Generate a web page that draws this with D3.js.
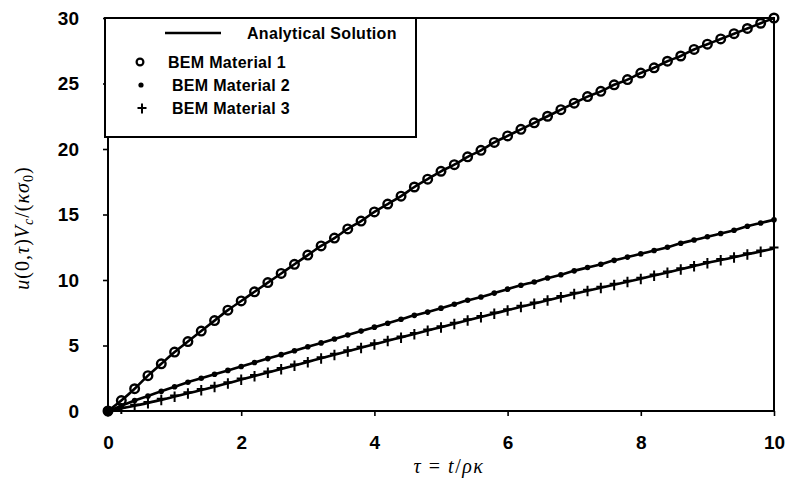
<!DOCTYPE html>
<html>
<head>
<meta charset="utf-8">
<script src="https://cdn.jsdelivr.net/npm/d3@7"></script>
<style>
  body { margin: 0; background: #fff; }
  svg { display: block; }
</style>
</head>
<body>
<svg id="chart" width="788" height="490"></svg>
<script>
// ---- data ----
const tau = [0,0.2,0.4,0.6,0.8,1.0,1.2,1.4,1.6,1.8,2.0,2.2,2.4,2.6,2.8,3.0,3.2,3.4,3.6,3.8,
             4.0,4.2,4.4,4.6,4.8,5.0,5.2,5.4,5.6,5.8,6.0,6.2,6.4,6.6,6.8,7.0,7.2,7.4,7.6,7.8,
             8.0,8.2,8.4,8.6,8.8,9.0,9.2,9.4,9.6,9.8,10.0];
const material1 = [0,0.8,1.7,2.7,3.6,4.5,5.3,6.1,6.9,7.7,8.4,9.1,9.8,10.5,11.2,11.9,12.6,13.2,13.9,14.5,
                   15.2,15.8,16.4,17.1,17.7,18.3,18.8,19.4,19.9,20.5,21.0,21.5,22.0,22.5,23.0,23.5,24.0,24.4,24.9,25.3,
                   25.8,26.2,26.7,27.1,27.6,28.0,28.4,28.8,29.2,29.6,30.0];
const material2 = [0,0.4,0.8,1.15,1.5,1.85,2.2,2.5,2.8,3.1,3.4,3.7,4.0,4.3,4.6,4.9,5.2,5.5,5.8,6.1,
                   6.4,6.7,7.0,7.3,7.55,7.85,8.15,8.45,8.7,9.0,9.3,9.6,9.85,10.15,10.4,10.7,10.95,11.2,11.5,11.75,
                   12.0,12.25,12.5,12.8,13.05,13.3,13.55,13.8,14.1,14.35,14.6];
const material3 = [0,0.2,0.4,0.62,0.85,1.1,1.35,1.6,1.85,2.12,2.4,2.67,2.94,3.21,3.48,3.75,4.02,4.29,4.56,4.83,
                   5.1,5.36,5.62,5.88,6.14,6.4,6.66,6.92,7.18,7.44,7.7,7.95,8.2,8.45,8.7,8.95,9.18,9.41,9.64,9.87,
                   10.1,10.34,10.58,10.82,11.06,11.3,11.52,11.74,11.96,12.18,12.4];
const xTicks = [0,2,4,6,8,10];
const yTicks = [0,5,10,15,20,25,30];
const legendLabels = ["Analytical Solution","BEM Material 1","BEM Material 2","BEM Material 3"];

// ---- layout ----
const svg = d3.select("#chart");
const L = 108, R = 774, T = 18, B = 411;
const x = d3.scaleLinear().domain([0,10]).range([L,R]);
const y = d3.scaleLinear().domain([0,30]).range([B,T]);
const tickFont = "bold 19px 'Liberation Sans', Arial, sans-serif";
const mathFont = "20px 'Liberation Serif', 'DejaVu Serif', serif";

// analytical lines
const line = d3.line().x((d,i)=>x(tau[i])).y(d=>y(d)).curve(d3.curveMonotoneX);
[material1, material2, material3].forEach(s => {
  svg.append("path").attr("d", line(s)).attr("fill","none")
     .attr("stroke","#000").attr("stroke-width",2.6);
});

// markers
const pts = arr => arr.map((v,i)=>({x:tau[i], y:v}));
svg.append("g").selectAll("circle").data(pts(material1)).join("circle")
  .attr("cx",d=>x(d.x)).attr("cy",d=>y(d.y)).attr("r",4.3)
  .attr("fill","none").attr("stroke","#000").attr("stroke-width",2.4);
svg.append("g").selectAll("circle").data(pts(material2)).join("circle")
  .attr("cx",d=>x(d.x)).attr("cy",d=>y(d.y)).attr("r",2.8).attr("fill","#000");
const plusPath = "M-4.5,-1H4.5M0,-5V5.5";
svg.append("g").selectAll("path").data(pts(material3)).join("path")
  .attr("transform",d=>`translate(${x(d.x)},${y(d.y)})`)
  .attr("d",plusPath).attr("stroke","#000").attr("stroke-width",2).attr("fill","none");
// blob at origin
svg.append("circle").attr("cx",x(0)).attr("cy",y(0)).attr("r",5).attr("fill","#000");

// frame
svg.append("rect").attr("x",L).attr("y",T).attr("width",R-L).attr("height",B-T)
  .attr("fill","none").attr("stroke","#000").attr("stroke-width",2);

// axes
const yAxis = svg.append("g").attr("transform",`translate(${L},0)`)
  .call(d3.axisLeft(y).tickValues(yTicks).tickSize(5).tickPadding(24).tickFormat(d3.format("d")));
const xAxis = svg.append("g").attr("transform",`translate(0,${B})`)
  .call(d3.axisBottom(x).tickValues(xTicks).tickSize(5).tickPadding(20).tickFormat(d3.format("d")));
[yAxis, xAxis].forEach(a => {
  a.select(".domain").remove();
  a.selectAll(".tick line").attr("stroke","#000").attr("stroke-width",1.6);
  a.selectAll(".tick text").attr("fill","#000").style("font",tickFont);
});

// axis titles
const xt = svg.append("text").attr("x",449).attr("y",473).attr("text-anchor","middle")
  .style("font",mathFont).style("letter-spacing","1.5px");
xt.append("tspan").attr("font-style","italic").text("τ");
xt.append("tspan").text(" = ");
xt.append("tspan").attr("font-style","italic").text("t");
xt.append("tspan").text("/");
xt.append("tspan").attr("font-style","italic").text("ρκ");

const yt = svg.append("text").attr("transform","translate(29,228) rotate(-90)")
  .attr("text-anchor","middle")
  .style("font",mathFont).style("letter-spacing","1px");
yt.append("tspan").attr("font-style","italic").text("u");
yt.append("tspan").text("(0,");
yt.append("tspan").attr("font-style","italic").text("τ");
yt.append("tspan").text(")");
yt.append("tspan").attr("font-style","italic").text("V");
yt.append("tspan").attr("font-style","italic").attr("font-size","14px").attr("dy",4).text("c");
yt.append("tspan").attr("dy",-4).text("/(");
yt.append("tspan").attr("font-style","italic").text("κσ");
yt.append("tspan").attr("font-size","14px").attr("dy",4).text("0");
yt.append("tspan").attr("dy",-4).text(")");

// legend
const lg = svg.append("g");
lg.append("rect").attr("x",105).attr("y",T).attr("width",311).attr("height",119)
  .attr("fill","#fff").attr("stroke","#000").attr("stroke-width",2);
const legFont = "bold 16px 'Liberation Sans', Arial, sans-serif";
lg.append("line").attr("x1",165).attr("x2",221).attr("y1",33).attr("y2",33)
  .attr("stroke","#000").attr("stroke-width",2.6);
lg.append("text").attr("x",247).attr("y",39).text(legendLabels[0]).style("font",legFont).style("letter-spacing","0.3px");
lg.append("circle").attr("cx",140).attr("cy",62).attr("r",3.4).attr("fill","none")
  .attr("stroke","#000").attr("stroke-width",2.2);
lg.append("text").attr("x",168).attr("y",68).text(legendLabels[1]).style("font",legFont).style("letter-spacing","0.3px");
lg.append("circle").attr("cx",141).attr("cy",85).attr("r",2.6).attr("fill","#000");
lg.append("text").attr("x",172).attr("y",91).text(legendLabels[2]).style("font",legFont).style("letter-spacing","0.3px");
lg.append("path").attr("transform","translate(142,108)").attr("d","M-4.5,0H4.5M0,-4.5V5.5")
  .attr("stroke","#000").attr("stroke-width",2);
lg.append("text").attr("x",172).attr("y",114).text(legendLabels[3]).style("font",legFont).style("letter-spacing","0.3px");
</script>
</body>
</html>
